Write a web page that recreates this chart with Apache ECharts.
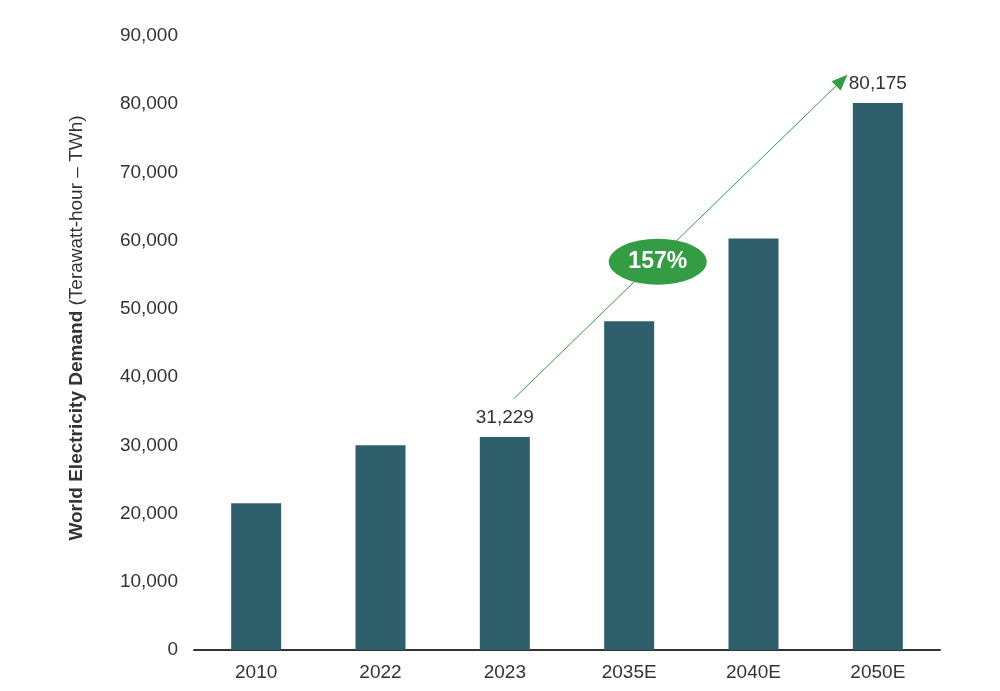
<!DOCTYPE html>
<html>
<head>
<meta charset="utf-8">
<script src="https://cdn.jsdelivr.net/npm/echarts@6/dist/echarts.min.js"></script>
<style>
  html, body { margin: 0; padding: 0; background: #fff; }
  #chart { width: 1000px; height: 691px; }
</style>
</head>
<body>
<div id="chart"></div>
<script>
// 数据
var years = ['2010', '2022', '2023', '2035E', '2040E', '2050E'];
var demand = [21500, 30000, 31229, 48200, 60300, 80175];
var labelled = ['2023', '2050E'];
var arrowFrom = [2.07, 36800];
var arrowTo = [4.71, 83500];
var growthBadge = [3.23, 56900];
var growthText = '157%';

var barColor = '#305f6c';
var green = '#339c45';

var myChart = echarts.init(document.getElementById('chart'));

var barData = demand.map(function (v, i) {
  return {
    value: v,
    label: { show: labelled.indexOf(years[i]) >= 0 }
  };
});

var option = {
  animation: false,
  backgroundColor: '#fff',
  textStyle: { fontFamily: 'Liberation Sans, Arial, sans-serif' },
  grid: { left: 194, right: 60, top: 36, bottom: 41, containLabel: false },
  xAxis: [
    {
      type: 'category',
      data: years,
      axisLine: { lineStyle: { color: '#333', width: 2 } },
      axisTick: { show: false },
      axisLabel: { color: '#333', fontSize: 19, margin: 13 }
    },
    {
      // 隐藏的数值轴，用来放箭头和百分比
      type: 'value',
      min: -0.5,
      max: 5.5,
      show: false
    }
  ],
  yAxis: {
    type: 'value',
    min: 0,
    max: 90000,
    interval: 10000,
    splitLine: { show: false },
    axisLine: { show: false },
    axisTick: { show: false },
    axisLabel: {
      color: '#333',
      fontSize: 19,
      margin: 16,
      formatter: function (v) { return v.toLocaleString('en-US'); }
    },
    name: '{b|World Electricity Demand} (Terawatt-hour \u2013 TWh)',
    nameLocation: 'middle',
    nameGap: 108,
    nameRotate: 90,
    nameTextStyle: {
      color: '#333',
      fontSize: 19,
      padding: [0, 0, 0, 30],
      rich: {
        b: { fontWeight: 'bold', fontSize: 19, color: '#333' }
      }
    }
  },
  series: [
    {
      type: 'bar',
      data: barData,
      barWidth: 50,
      itemStyle: { color: barColor },
      label: {
        position: 'top',
        distance: 10,
        color: '#333',
        fontSize: 19,
        formatter: function (p) { return p.value.toLocaleString('en-US'); }
      }
    },
    {
      type: 'scatter',
      xAxisIndex: 1,
      data: [growthBadge],
      symbol: 'circle',
      symbolSize: [98, 46],
      itemStyle: { color: green, opacity: 1 },
      z: 10,
      label: {
        show: true,
        position: 'inside',
        formatter: growthText,
        color: '#fff',
        fontSize: 23,
        fontWeight: 'bold'
      },
      markLine: {
        silent: true,
        symbol: ['none', 'triangle'],
        symbolSize: [13, 16],
        lineStyle: { color: green, width: 1, type: 'solid', opacity: 1 },
        label: { show: false },
        z: 1,
        data: [[{ coord: arrowFrom }, { coord: arrowTo }]]
      }
    }
  ]
};

myChart.setOption(option);
</script>
</body>
</html>
